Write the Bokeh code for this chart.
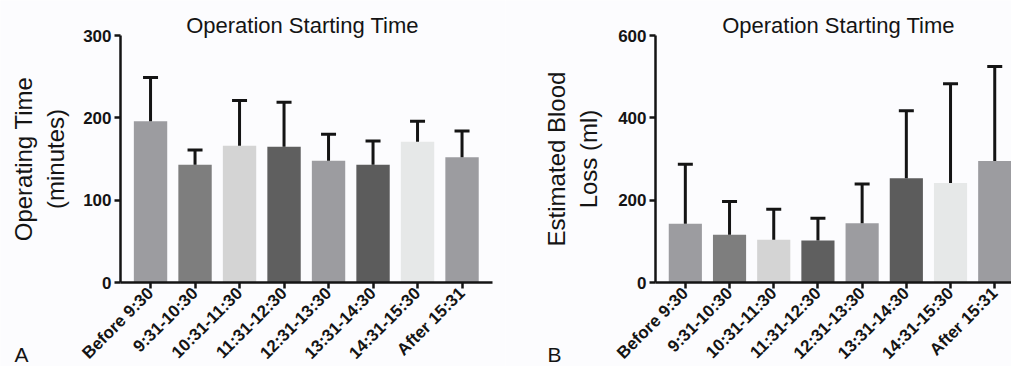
import math
from bokeh.plotting import figure
from bokeh.layouts import row
from bokeh.models import FixedTicker, Label, ColumnDataSource
from bokeh.embed import file_html
from bokeh.resources import INLINE

categories = ["Before 9:30", "9:31-10:30", "10:31-11:30", "11:31-12:30",
              "12:31-13:30", "13:31-14:30", "14:31-15:30", "After 15:31"]
op_time_mean = [196, 143, 166, 165, 148, 143, 171, 152]
op_time_sd = [53, 18, 55, 54, 32, 29, 25, 32]
blood_loss_mean = [143, 116, 104, 102, 144, 253, 242, 295]
blood_loss_sd = [144, 81, 74, 54, 95, 164, 241, 230]
bar_colors = ["#9c9ca0", "#7e7e7e", "#d4d4d4", "#5f5f5f",
              "#9c9ca0", "#5c5c5c", "#e6e8e8", "#9c9ca0"]
op_ticks = [0, 100, 200, 300]
bl_ticks = [0, 200, 400, 600]

BG = "#fcfcfe"
FONT = "Liberation Sans"
INK = "#141414"
H = 366          # figure height
PLOT_TOP = 35    # px from figure top to the highest tick
PLOT_BOT = 84    # px from y=0 to figure bottom


def make_panel(width, axis_px, px_per_x, axis_end, y_max, yticks, means, sds,
               ylabel, label_standoff, title_x, letter, letter_x):
    xs = list(range(len(categories)))
    x0 = -0.675
    x_range = (x0 - axis_px / px_per_x, x0 + (width - axis_px) / px_per_x)
    plot_h = H - PLOT_TOP - PLOT_BOT
    px_per_y = plot_h / y_max
    y_range = (-PLOT_BOT / px_per_y, y_max + PLOT_TOP / px_per_y)

    p = figure(width=width, height=H, output_backend="svg", toolbar_location=None,
               x_range=x_range, y_range=y_range,
               min_border=0, min_border_left=0, min_border_right=0,
               min_border_top=0, min_border_bottom=0,
               background_fill_color=BG, border_fill_color=BG)
    p.outline_line_color = None
    p.grid.visible = False

    src = ColumnDataSource(dict(x=xs, top=means,
                                up=[m + s for m, s in zip(means, sds)],
                                color=bar_colors))
    p.vbar(x="x", top="top", bottom=0, width=0.75, fill_color="color",
           line_color=None, source=src)
    p.segment(x0="x", y0="top", x1="x", y1="up", line_color=INK,
              line_width=3, source=src)
    p.scatter(x="x", y="up", marker="dash", size=15, line_color=INK,
              line_width=3, source=src)

    for ax in (p.xaxis[0], p.yaxis[0]):
        ax.axis_line_width = 2.5
        ax.axis_line_color = INK
        ax.major_tick_line_width = 2.5
        ax.major_tick_line_color = INK
        ax.major_tick_out = 6
        ax.major_tick_in = 0
        ax.minor_tick_line_color = None
        ax.major_label_text_font = FONT
        ax.major_label_text_font_style = "bold"
        ax.major_label_text_color = INK

    p.xaxis.fixed_location = 0
    p.xaxis.bounds = (x0, axis_end)
    p.xaxis.ticker = FixedTicker(ticks=xs)
    p.xaxis.major_label_overrides = {i: c for i, c in enumerate(categories)}
    p.xaxis.major_label_orientation = math.pi / 4
    p.xaxis.major_label_text_font_size = "17px"
    p.xaxis.major_label_standoff = 2

    p.yaxis.fixed_location = x0
    p.yaxis.bounds = (0, y_max)
    p.yaxis.ticker = FixedTicker(ticks=yticks)
    p.yaxis.major_label_text_font_size = "17px"
    p.yaxis.major_label_standoff = 3
    p.yaxis.axis_label = ylabel
    p.yaxis.axis_label_text_font = FONT
    p.yaxis.axis_label_text_font_size = "24px"
    p.yaxis.axis_label_text_font_style = "normal"
    p.yaxis.axis_label_text_color = INK
    p.yaxis.axis_label_standoff = label_standoff

    p.add_layout(Label(x=title_x, y=H - 25, x_units="screen", y_units="screen",
                       text="Operation Starting Time", text_font=FONT,
                       text_font_size="22px", text_align="center",
                       text_baseline="alphabetic", text_color=INK))
    p.add_layout(Label(x=letter_x, y=12, x_units="screen", y_units="screen",
                       text=letter, text_font=FONT, text_font_size="21px",
                       text_align="left", text_baseline="alphabetic",
                       text_color=INK))
    return p


p1 = make_panel(505, 120, 44.5, 7.685, 300, op_ticks, op_time_mean, op_time_sd,
                "Operating Time\n(minutes)", 11, 302, "A", 14)
p2 = make_panel(506, 150, 44.2, 20, 600, bl_ticks, blood_loss_mean, blood_loss_sd,
                "Estimated Blood\nLoss (ml)", 13, 333, "B", 42)

layout = row(p1, p2)
open("out.html", "w").write(file_html(layout, INLINE))
